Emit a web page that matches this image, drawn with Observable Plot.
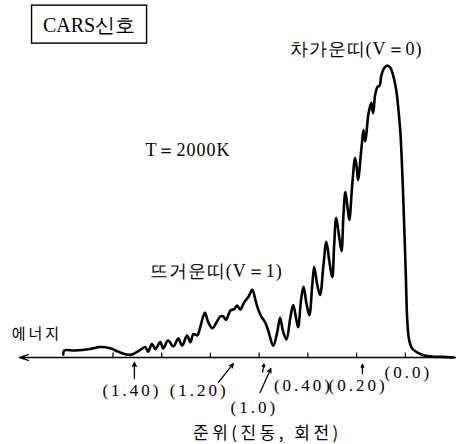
<!DOCTYPE html>
<html>
<head>
<meta charset="utf-8">
<script src="https://cdn.jsdelivr.net/npm/d3@7"></script>
<script src="https://cdn.jsdelivr.net/npm/@observablehq/plot@0.6"></script>
<style>
  html, body { margin: 0; padding: 0; background: #fff; }
</style>
</head>
<body>
<div id="chart"></div>
<script>
// Raman shift position (tick units, energy increasing to the left) and CARS intensity (% of peak)
const curveShift = [7.02,7.00,6.78,6.47,6.26,6.06,5.95,5.85,5.65,5.44,5.34,5.28,5.20,5.13,5.03,4.97,4.87,4.76,4.66,4.58,
  4.48,4.41,4.35,4.27,4.21,4.15,4.11,4.05,3.96,3.88,3.80,3.74,3.68,3.59,3.51,3.45,3.39,3.31,3.22,3.14,
  3.08,3.02,2.96,2.87,2.81,2.71,2.63,2.57,2.51,2.44,2.36,2.30,2.24,2.20,2.14,2.09,2.03,1.97,1.91,1.87,
  1.81,1.75,1.68,1.62,1.56,1.50,1.46,1.42,1.36,1.31,1.27,1.23,1.19,1.15,1.09,1.03,0.99,0.97,0.90,0.86,
  0.84,0.82,0.76,0.70,0.68,0.66,0.62,0.57,0.53,0.49,0.43,0.37,0.31,0.25,0.18,0.14,0.10,0.06,0.02,-0.01,
  -0.04,-0.08,-0.14,-0.25,-0.39,-0.55,-0.76,-0.99];
const curveIntensity = [1.0,2.4,2.4,2.9,3.6,3.2,2.4,1.7,0.9,2.6,3.6,2.0,4.6,2.9,5.3,3.1,5.8,3.8,6.5,4.1,
  7.5,5.2,8.0,7.6,10.3,14.0,15.3,12.3,10.0,11.9,14.0,14.1,12.9,16.1,16.6,17.8,16.4,18.8,20.8,23.2,
  19.9,16.5,14.2,11.8,9.0,4.0,8.6,13.6,9.0,6.2,13.6,18.0,13.2,10.4,19.7,24.2,18.6,14.5,24.9,31.0,
  25.1,21.4,31.7,39.6,33.0,27.5,38.6,47.8,41.6,36.4,48.8,56.7,51.9,47.1,59.1,68.4,63.8,60.8,71.8,77.9,
  75.1,74.1,83.1,87.2,85.1,83.7,89.9,92.7,93.0,96.8,99.2,100,99.3,96.6,90.8,84.6,76.7,62.3,43.5,28.1,
  12.7,5.8,3.1,1.7,0.7,0.3,0.2,0];

const tickPositions = [0, 1, 2, 3, 4, 5, 6];

// level labels (vibrational, rotational)
const levelLabels = ["(1.40)", "(1.20)", "(1.0)", "(0.40)", "(0.20)", "(0.0)"];
const levelX = [5.61, 4.23, 3.10, 2.09, 0.97, -0.06];
const levelY = [-11.3, -11.3, -17.1, -9.6, -9.6, -5.1];

// pointer arrows below the axis
const arrowX1 = [5.56, 3.84, 2.98, 2.93, 0.88];
const arrowY1 = [-7.2, -8.6, -12.0, -5.0, -5.5];
const arrowX2 = [5.56, 3.53, 2.76, 2.90, 0.88];
const arrowY2 = [-1.7, -2.1, -3.8, -2.3, -2.4];

const axisExtent = [-1.05, 7.92];

const curve = curveShift.map((x, i) => ({x, y: curveIntensity[i]}));
const levels = levelLabels.map((t, i) => ({t, x: levelX[i], y: levelY[i]}));
const arrows = arrowX1.map((x1, i) => ({x1, y1: arrowY1[i], x2: arrowX2[i], y2: arrowY2[i]}));

const serif = "Liberation Serif";
const sans = "Noto Sans CJK KR";

const chart = Plot.plot({
  width: 456,
  height: 444,
  marginLeft: 15,
  marginRight: 0,
  marginTop: 0,
  marginBottom: 87,
  x: {domain: [8.0, -1.05], axis: null},
  y: {domain: [0, 122.26], axis: null},
  style: {background: "#fff", color: "#000"},
  marks: [
    Plot.arrow([{x1: axisExtent[0], x2: axisExtent[1], y: 0}], {
      x1: "x1", x2: "x2", y1: "y", y2: "y", stroke: "#000", strokeWidth: 1.4, headLength: 10, headAngle: 35
    }),
    Plot.ruleX(tickPositions, {x: d => d, y1: 0, y2: 1.5, stroke: "#000", strokeWidth: 1.2}),
    Plot.line(curve, {x: "x", y: "y", curve: "catmull-rom", stroke: "#000", strokeWidth: 2.6, strokeLinejoin: "round"}),
    Plot.arrow(arrows, {x1: "x1", y1: "y1", x2: "x2", y2: "y2", stroke: "#000", strokeWidth: 1.3, headLength: 5, headAngle: 50}),
    Plot.text(levels, {x: "x", y: "y", text: "t", fontSize: 17, fontFamily: serif, fill: "#000"}),
    Plot.rect([{x1: 7.66, x2: 5.30, y1: 107.5, y2: 120.5}], {x1: "x1", x2: "x2", y1: "y1", y2: "y2", fill: "none", stroke: "#000", strokeWidth: 1.4}),
    Plot.text(["CARS신호"], {x: 6.49, y: 113.7, text: d => d, fontSize: 20, fontFamily: serif, fill: "#000"}),
    Plot.text(["차가운띠(V＝0)"], {x: 1.01, y: 105.5, text: d => d, fontSize: 18, fontFamily: serif, fill: "#000"}),
    Plot.text(["T＝2000K"], {x: 4.46, y: 70.9, text: d => d, fontSize: 18, fontFamily: serif, fill: "#000"}),
    Plot.text(["뜨거운띠(V＝1)"], {x: 3.88, y: 29.5, text: d => d, fontSize: 18, fontFamily: serif, fill: "#000"}),
    Plot.text(["에너지"], {x: 7.56, y: 8.0, text: d => d, fontSize: 15, fontFamily: sans, fill: "#000"}),
    Plot.text(["준위(진동, 회전)"], {x: 2.83, y: -26.0, text: d => d, fontSize: 17, fontFamily: sans, fill: "#000"})
  ]
});

// letter spacing as in the printed figure
const spacingFor = t => {
  if (levelLabels.includes(t)) return "3px";
  if (t === "에너지") return "3px";
  if (t.startsWith("준위")) return "3.5px";
  if (t === "CARS신호") return "0px";
  return "1px";
};
d3.select(chart).selectAll("text").each(function() {
  this.style.setProperty("letter-spacing", spacingFor(this.textContent));
});
document.getElementById("chart").appendChild(chart);
</script>
</body>
</html>
